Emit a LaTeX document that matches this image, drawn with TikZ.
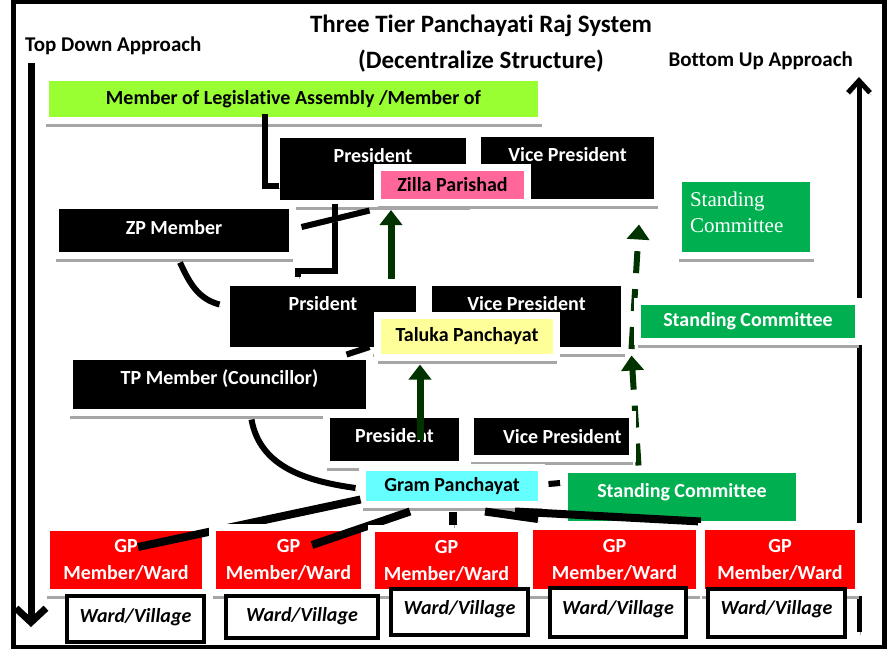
\documentclass[tikz,border=0pt]{standalone}
\usepackage{fontspec}
\setmainfont{Carlito}[Ligatures={NoCommon,NoContextual}, Contextuals=NoAlternate, RawFeature={-liga}]
\newfontfamily\cambriafont{Liberation Serif}
\usetikzlibrary{arrows.meta,shadows,backgrounds}

\definecolor{mlaGreen}{RGB}{153,255,51}
\definecolor{zpPink}{RGB}{255,102,153}
\definecolor{tpYellow}{RGB}{255,255,153}
\definecolor{gpCyan}{RGB}{102,255,255}
\definecolor{comGreen}{RGB}{0,176,80}
\definecolor{gpRed}{RGB}{255,0,0}
\definecolor{flowGreen}{RGB}{0,51,0}

\tikzset{
  lbl/.style={font=\fontsize{20}{24}\selectfont\bfseries},
  heading/.style={font=\fontsize{21}{25}\selectfont\bfseries},
  card/.style={rectangle, draw=white, line width=7pt, lbl,
    drop shadow={shadow xshift=0pt, shadow yshift=-6pt, fill=black!35, opacity=1}},
  darkcard/.style={card, fill=black, text=white},
  lightcard/.style={card, fill=#1, text=black},
  comcard/.style={card, fill=comGreen, text=white},
  gpcard/.style={card, fill=gpRed, text=white, align=center,
    font=\fontsize{20}{27}\selectfont\bfseries},
  wardbox/.style={rectangle, draw=black, line width=4pt, fill=white,
    font=\fontsize{20}{24}\selectfont\bfseries\itshape},
  castshadow/.style={preaction={draw=black!35, transform canvas={xshift=1.5pt, yshift=-2.5pt}}},
  link/.style={draw=black, line width=6pt, castshadow},
  gplink/.style={draw=black, line width=8pt, castshadow},
  upflow/.style={flowGreen, line width=7pt, -{Triangle[length=15pt,width=22pt]}},
  upflowdash/.style={upflow, line width=6pt, dash pattern=on 22pt off 16pt},
  approach/.style={line width=7pt, -{Straight Barb[length=14pt,width=30pt]}, castshadow},
}

\begin{document}
\begin{tikzpicture}[x=1pt, y=-1pt, every node/.style={inner sep=2pt}]
  \useasboundingbox (0,0) rectangle (890,651);
  \draw[line width=4.5pt] (13.5,2) rectangle (884.5,647);

  % Headings
  \node[font=\fontsize{25}{30}\selectfont\bfseries] (title) at (481,26) {Three Tier Panchayat\kern0pt i Raj System};
  \node[font=\fontsize{25}{30}\selectfont\bfseries] (subtitle) at (481,61) {(Decentralize Structure)};
  \node[heading, anchor=west] (topdown) at (23,46) {Top Down Approach};
  \node[heading, anchor=east] (bottomup) at (855,61) {Bottom Up Approach};

  % Approach arrows
  \coordinate (tdTop) at (31,63);
  \coordinate (tdEnd) at (31,627);
  \coordinate (buStart) at (859,632);
  \coordinate (buEnd) at (859,77);
  \draw[approach] (tdTop) -- (tdEnd);
  \draw[approach, line width=5pt, -{Straight Barb[length=12pt,width=22pt]}] (buStart) -- (buEnd);

  % Zilla Parishad tier
  \node[lightcard=mlaGreen, minimum width=496pt, minimum height=43pt] (mla) at (293.5,99) {Member of Legislat\kern0pt ive Assembly /Member of};
  \node[darkcard, minimum width=193pt, minimum height=69pt, text depth=28pt] (zpPres) at (373,169) {President};
  \node[darkcard, minimum width=180pt, minimum height=69pt, text depth=28pt] (zpVP) at (567.5,168) {Vice President};
  \node[lightcard=zpPink, minimum width=150pt, minimum height=35pt] (zillaP) at (452.5,185) {Zilla Parishad};
  \node[darkcard, minimum width=237pt, minimum height=50pt, text depth=7pt] (zpMem) at (174,230.5) {ZP Member};
  \node[comcard, minimum width=135pt, minimum height=77pt, text width=112pt, align=flush left, text depth=36pt,
    font=\cambriafont\fontsize{21}{26}\selectfont] (zpCom) at (746,217) {Standing\\Committee};

  % Taluka Panchayat tier
  \node[darkcard, minimum width=193pt, minimum height=68pt, text depth=27pt] (tpPres) at (323,316.5) {Prsident};
  \node[darkcard, minimum width=196pt, minimum height=68pt, text depth=27pt] (tpVP) at (526.5,316.5) {Vice President};
  \node[lightcard=tpYellow, minimum width=179pt, minimum height=42pt] (taluka) at (467,336.5) {Taluka Panchayat};
  \node[comcard, minimum width=221pt, minimum height=40pt] (tpCom) at (748,321.5) {Standing Committee};
  \node[darkcard, minimum width=300pt, minimum height=56pt, text depth=15pt] (tpMem) at (219.5,384.5) {TP Member (Councillor)};

  % Gram Panchayat tier
  \node[darkcard, minimum width=136pt, minimum height=50pt, text depth=9pt] (gpPres) at (394.5,439.5) {President};
  \node[darkcard, minimum width=162pt, minimum height=44pt, text width=140pt, align=flush right] (gpVP) at (551.5,436.5) {Vice President};
  \node[lightcard=gpCyan, minimum width=179pt, minimum height=37pt] (gramP) at (452,486) {Gram Panchayat};
  \node[comcard, minimum width=235pt, minimum height=55pt, text depth=14pt] (gpCom) at (682,497) {Standing Committee};

  % Members and wards
  \node[gpcard, minimum width=159pt, minimum height=65pt] (gp1) at (126,560) {GP\\Member/Ward};
  \draw[gplink] ([xshift=1.5pt,yshift=8.5pt]gramP.south west) -- ([xshift=12pt,yshift=13pt]gp1.center);
  \node[gpcard, minimum width=152pt, minimum height=65pt] (gp2) at (288.5,560) {GP\\Member/Ward};
  \draw[gplink] ([xshift=-42pt,yshift=-3.5pt]gramP.south) -- ([xshift=23.5pt,yshift=15pt]gp2.center);
  \node[gpcard, minimum width=150pt, minimum height=64pt] (gp3) at (446.5,560.5) {GP\\Member/Ward};
  \draw[gplink] ([xshift=1pt,yshift=-3.5pt]gramP.south) -- ([xshift=6.5pt]gp3.north);
  \node[gpcard, minimum width=170pt, minimum height=66pt] (gp4) at (614.5,559.5) {GP\\Member/Ward};
  \draw[gplink] ([xshift=33pt,yshift=-3.5pt]gramP.south) -- ([xshift=12pt,yshift=4pt]gp4.north west);
  \draw[gplink] ([xshift=63pt,yshift=-3.5pt]gramP.south) -- ([xshift=-2pt,yshift=1.5pt]gp4.north east);
  \node[gpcard, minimum width=157pt, minimum height=66pt] (gp5) at (780,559.5) {GP\\Member/Ward};

  \node[wardbox, minimum width=137pt, minimum height=46pt, text depth=8pt] (ward1) at (135.5,619) {Ward/Village};
  \node[wardbox, minimum width=152pt, minimum height=42pt, text depth=5pt] (ward2) at (302,617) {Ward/Village};
  \node[wardbox, minimum width=137pt, minimum height=46pt, text depth=10pt] (ward3) at (459.5,612) {Ward/Village};
  \node[wardbox, minimum width=136pt, minimum height=49pt, text depth=11pt] (ward4) at (618,612.5) {Ward/Village};
  \node[wardbox, minimum width=137pt, minimum height=48pt, text depth=12pt] (ward5) at (776.5,613) {Ward/Village};

  % Links between the tiers
  \draw[link] ([xshift=-28.5pt,yshift=10.5pt]mla.south) |- ([xshift=5.5pt,yshift=-17pt]zpPres.west);
  \draw[link] ([xshift=-38pt,yshift=3.5pt]zpPres.south) -- ++(0,67) -| ([xshift=-25pt,yshift=2.5pt]tpPres.north);
  \draw[link] ([xshift=5.5pt,yshift=3.5pt]zpMem.east) -- ([xshift=-4.5pt,yshift=-4.5pt]zillaP.south west);
  \draw[link] ([xshift=6pt,yshift=-3.5pt]zpMem.south) to[out=-65,in=165] ([xshift=-3.5pt,yshift=12pt]tpPres.west);
  \draw[link] ([xshift=-26.5pt,yshift=-1.5pt]tpMem.north east) -- ([xshift=-4.5pt,yshift=-10.5pt]taluka.west);
  \draw[link] ([xshift=32pt,yshift=-3.5pt]tpMem.south) to[out=-80,in=172] ([xshift=-3.5pt,yshift=-2pt]gramP.west);
  \draw[link] ([xshift=3.5pt,yshift=2pt]gramP.east) -- ([xshift=-1pt,yshift=14pt]gpCom.west);

  % Upward flow
  \draw[upflow] ([xshift=68pt]tpPres.north) -- ([xshift=-61.5pt,yshift=-4pt]zillaP.south);
  \draw[upflow] ([xshift=25.5pt]gpPres.center) -- ([xshift=-47pt,yshift=-3.5pt]taluka.south);
  \begin{pgfonlayer}{background}
    \draw[upflowdash] ([xshift=2.5pt,yshift=-3.5pt]gpVP.south east) -- ([xshift=-2.5pt,yshift=-10.5pt]tpCom.south west);
    \draw[upflowdash] ([xshift=-2.5pt,yshift=-4pt]tpCom.south west) -- ([xshift=-22pt,yshift=-18.5pt]zpVP.south east);
  \end{pgfonlayer}
\end{tikzpicture}
\end{document}
